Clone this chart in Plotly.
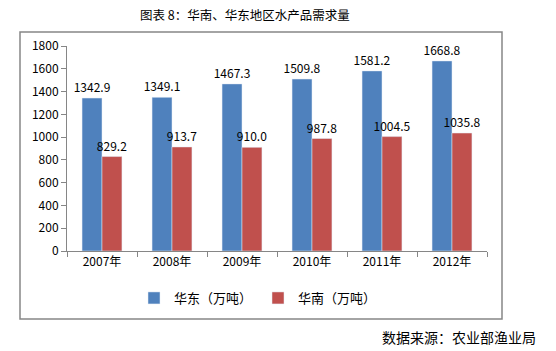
import plotly.graph_objects as go

years = ["2007年", "2008年", "2009年", "2010年", "2011年", "2012年"]
east = [1342.9, 1349.1, 1467.3, 1509.8, 1581.2, 1668.8]
south = [829.2, 913.7, 910.0, 987.8, 1004.5, 1035.8]
east_labels = ["1342.9", "1349.1", "1467.3", "1509.8", "1581.2", "1668.8"]
south_labels = ["829.2", "913.7", "910.0", "987.8", "1004.5", "1035.8"]

FONT = "Noto Sans CJK SC"
W, H = 556, 351
L, R, T, B = 67, 69, 46, 100
pw, ph = W - L - R, H - T - B

def px(x):
    return (x - L) / pw

def py(y):
    return (H - B - y) / ph

fig = go.Figure()
fig.add_trace(go.Bar(x=years, y=east, name="华东（万吨）", marker_color="#4F81BD",
                     text=east_labels, textposition="outside", cliponaxis=False,
                     textfont=dict(size=12, color="#000000", family=FONT)))
fig.add_trace(go.Bar(x=years, y=south, name="华南（万吨）", marker_color="#C0504D",
                     text=south_labels, textposition="outside", cliponaxis=False,
                     textfont=dict(size=12, color="#000000", family=FONT)))

fig.update_layout(
    width=W, height=H,
    margin=dict(l=L, r=R, t=T, b=B),
    paper_bgcolor="white", plot_bgcolor="white",
    barmode="group", bargap=0.43, bargroupgap=0,
    uniformtext=dict(minsize=12, mode="show"),
    font=dict(family=FONT, size=12, color="#000000"),
    showlegend=True,
    legend=dict(orientation="h", x=px(134), xanchor="left", y=py(298), yanchor="middle",
                font=dict(size=13, family=FONT), itemwidth=30, entrywidth=79,
                bgcolor="rgba(0,0,0,0)"),
    xaxis=dict(showline=True, linecolor="#868686", linewidth=1, ticks="outside",
               tickson="boundaries", ticklen=5, tickcolor="#868686",
               tickfont=dict(size=12, family=FONT), showgrid=False),
    yaxis=dict(range=[0, 1800], dtick=200, showline=True, linecolor="#868686",
               linewidth=1, ticks="outside", ticklen=5, tickcolor="#868686",
               showgrid=False, zeroline=False, tickfont=dict(size=12, family=FONT)),
    shapes=[dict(type="rect", xref="paper", yref="paper",
                 x0=px(20), x1=px(502), y0=py(319), y1=py(32),
                 line=dict(color="#868686", width=1.5), layer="below")],
    annotations=[
        dict(text="图表 8：华南、华东地区水产品需求量", xref="paper", yref="paper",
             x=px(245), y=py(14), showarrow=False, xanchor="center", yanchor="middle",
             font=dict(size=12.5, family=FONT, color="#000000")),
        dict(text="数据来源：农业部渔业局", xref="paper", yref="paper",
             x=px(538), y=py(337), showarrow=False, xanchor="right", yanchor="middle",
             font=dict(size=14, family=FONT, color="#000000")),
    ],
)

fig.write_html("out.html")
